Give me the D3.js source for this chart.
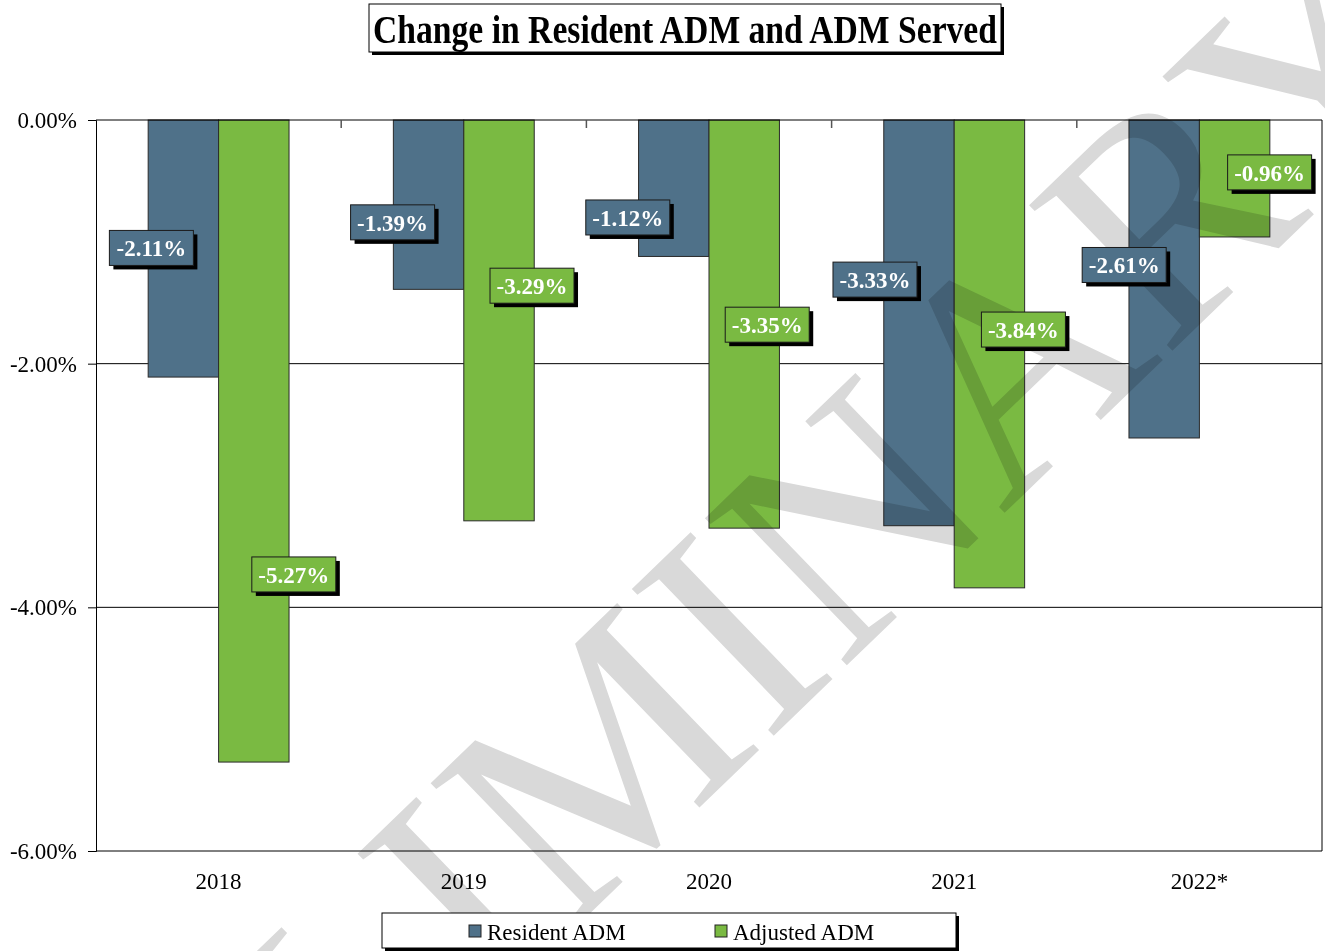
<!DOCTYPE html>
<html>
<head>
<meta charset="utf-8">
<script src="https://cdn.jsdelivr.net/npm/d3@7/dist/d3.min.js"></script>
<style>
  html, body { margin: 0; padding: 0; background: #fff; }
  svg { display: block; font-family: "Liberation Serif", "Times New Roman", serif; }
</style>
</head>
<body>
<svg id="chart" width="1325" height="951"></svg>
<script>
// ---- data ----
const categories = ["2018", "2019", "2020", "2021", "2022*"];
const seriesNames = ["Resident ADM", "Adjusted ADM"];
const residentADM = [-2.11, -1.39, -1.12, -3.33, -2.61];
const adjustedADM = [-5.27, -3.29, -3.35, -3.84, -0.96];
const yTickValues = [0, -2, -4, -6];
// where the value labels sit (in % units) and their sideways shift
const residentLabelAt = [-1.05, -0.84, -0.80, -1.31, -1.19];
const adjustedLabelAt = [-3.73, -1.36, -1.68, -1.72, -0.43];
const residentLabelShift = [-32, -36, -46, -44, -40];
const adjustedLabelShift = [40, 33, 23, 34, 35];
const titleText = "Change in Resident ADM and ADM Served";
const watermarkText = "PRELIMINARY";

// ---- styles ----
const colors = ["#4f7189", "#7aba42"];
const svg = d3.select("#chart");
const L = 96, R = 1322, T = 120, B = 851;
const pct = d => d3.format(".2f")(d).replace("\u2212", "-") + "%";

const x0 = d3.scaleBand().domain(categories).range([L, R])
  .paddingInner(0.4255).paddingOuter(0.4255 / 2);
const x1 = d3.scaleBand().domain(seriesNames).range([0, x0.bandwidth()]);
const y = d3.scaleLinear().domain([-6, 0]).range([B, T]);

const series = [residentADM, adjustedADM];
const labelAt = [residentLabelAt, adjustedLabelAt];
const labelShift = [residentLabelShift, adjustedLabelShift];

// grid lines
svg.append("g").selectAll("line").data(yTickValues.filter(v => v !== 0 && v !== -6))
  .join("line")
  .attr("x1", L).attr("x2", R)
  .attr("y1", d => y(d)).attr("y2", d => y(d))
  .attr("stroke", "#000").attr("stroke-width", 1);

// plot border (right + bottom)
svg.append("line").attr("x1", R).attr("x2", R).attr("y1", T).attr("y2", B).attr("stroke", "#000");
svg.append("line").attr("x1", L).attr("x2", R).attr("y1", B).attr("y2", B).attr("stroke", "#000");

// bars
series.forEach((vals, si) => {
  svg.append("g").selectAll("rect").data(vals).join("rect")
    .attr("x", (d, i) => x0(categories[i]) + x1(seriesNames[si]))
    .attr("width", x1.bandwidth())
    .attr("y", d => y(Math.max(0, d)))
    .attr("height", d => Math.abs(y(d) - y(0)))
    .attr("fill", colors[si])
    .attr("stroke", "#2a2a2a").attr("stroke-width", 1);
});

// y axis
const yAxis = d3.axisLeft(y).tickValues(yTickValues).tickSize(8).tickFormat(pct);
const gy = svg.append("g").attr("transform", `translate(${L},0)`).call(yAxis);
gy.select(".domain").attr("stroke", "#000");
gy.selectAll(".tick line").attr("stroke", "#000");
gy.selectAll(".tick text").attr("font-size", 23).attr("fill", "#000")
  .attr("font-family", "Liberation Serif").attr("x", -19).attr("dy", "0.32em");

// x axis at zero (top) with category boundary ticks
svg.append("line").attr("x1", L).attr("x2", R).attr("y1", y(0)).attr("y2", y(0)).attr("stroke", "#000");
const boundaries = categories.slice(1).map(c => x0(c) - x0.step() * x0.paddingInner() / 2);
svg.append("g").selectAll("line").data(boundaries).join("line")
  .attr("x1", d => d).attr("x2", d => d)
  .attr("y1", y(0)).attr("y2", y(0) + 8)
  .attr("stroke", "#555").attr("stroke-width", 1.5);

// category labels
svg.append("g").selectAll("text").data(categories).join("text")
  .attr("x", d => x0(d) + x0.bandwidth() / 2)
  .attr("y", 889)
  .attr("text-anchor", "middle")
  .attr("font-size", 23)
  .text(d => d);

// watermark
svg.append("text")
  .attr("transform", "translate(630,728) rotate(-44)")
  .attr("text-anchor", "middle")
  .attr("dominant-baseline", "central")
  .attr("font-size", 312)
  .attr("fill", "#d9d9d9")
  .style("mix-blend-mode", "multiply")
  .text(watermarkText);

// value labels
const bw = 84, bh = 35;
series.forEach((vals, si) => {
  const g = svg.append("g");
  vals.forEach((v, i) => {
    const cx = x0(categories[i]) + x1(seriesNames[si]) + x1.bandwidth() / 2 + labelShift[si][i];
    const cy = y(labelAt[si][i]);
    g.append("rect").attr("x", cx - bw / 2 + 4).attr("y", cy - bh / 2 + 4)
      .attr("width", bw).attr("height", bh).attr("fill", "#000");
    g.append("rect").attr("x", cx - bw / 2).attr("y", cy - bh / 2)
      .attr("width", bw).attr("height", bh).attr("fill", colors[si])
      .attr("stroke", "#1a1a1a").attr("stroke-width", 1);
    g.append("text").attr("x", cx).attr("y", cy).attr("dy", "0.36em")
      .attr("text-anchor", "middle").attr("font-size", 23).attr("font-weight", "bold")
      .attr("fill", "#fff").text(pct(v));
  });
});

// title
svg.append("rect").attr("x", 372).attr("y", 7).attr("width", 632).attr("height", 48).attr("fill", "#000");
svg.append("rect").attr("x", 369).attr("y", 4).attr("width", 632).attr("height", 48)
  .attr("fill", "#fff").attr("stroke", "#000").attr("stroke-width", 1);
svg.append("text").attr("x", 685).attr("y", 43).attr("text-anchor", "middle")
  .attr("font-size", 40).attr("font-weight", "bold")
  .attr("textLength", 624).attr("lengthAdjust", "spacingAndGlyphs")
  .text(titleText);

// legend
svg.append("rect").attr("x", 385).attr("y", 916).attr("width", 574).attr("height", 35).attr("fill", "#000");
svg.append("rect").attr("x", 382).attr("y", 913).attr("width", 574).attr("height", 35)
  .attr("fill", "#fff").attr("stroke", "#000").attr("stroke-width", 1);
const legendX = [469, 715];
seriesNames.forEach((n, i) => {
  svg.append("rect").attr("x", legendX[i]).attr("y", 925).attr("width", 12).attr("height", 12)
    .attr("fill", colors[i]).attr("stroke", "#222").attr("stroke-width", 1);
  svg.append("text").attr("x", legendX[i] + 18).attr("y", 940)
    .attr("font-size", 23).text(n);
});
</script>
</body>
</html>
